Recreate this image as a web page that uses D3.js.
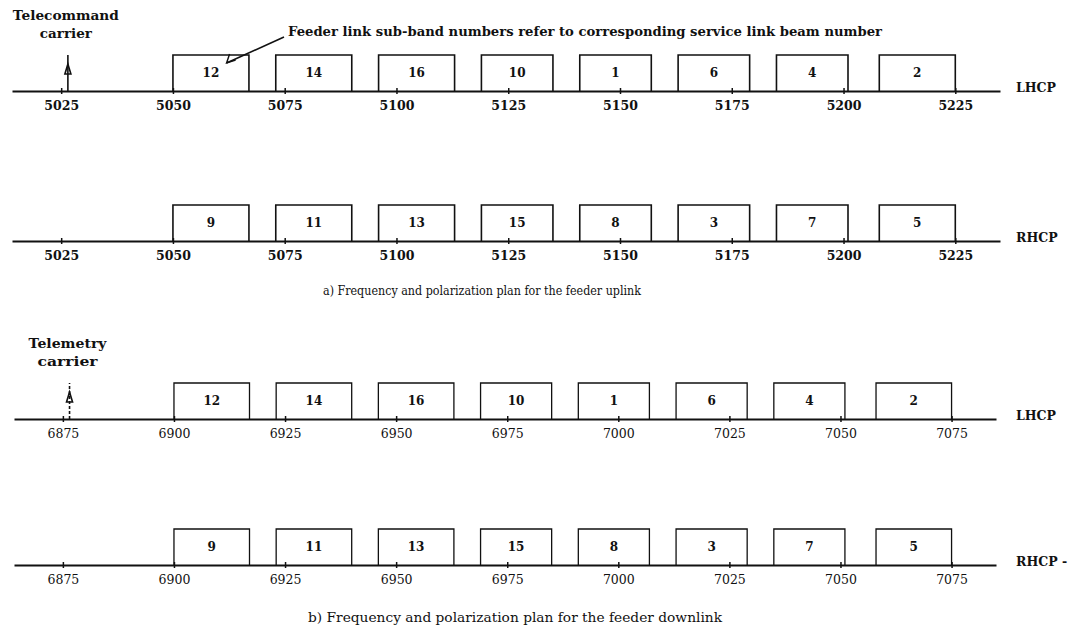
<!DOCTYPE html>
<html>
<head>
<meta charset="utf-8">
<script src="https://cdnjs.cloudflare.com/ajax/libs/d3/7.8.5/d3.min.js"></script>
<style>
	body { margin: 0; background: white; }
	text { font-family: "DejaVu Serif", "Liberation Serif", serif; fill: #111; }
</style>
</head>
<body>
<div id="chart"></div>
<script>
var svgWidth = 1085;
var svgHeight = 640;

// frequencies in MHz
var uplinkTicks = [5025, 5050, 5075, 5100, 5125, 5150, 5175, 5200, 5225];
var downlinkTicks = [6875, 6900, 6925, 6950, 6975, 7000, 7025, 7050, 7075];
var uplinkDomain = [5014, 5235];
var downlinkDomain = [6864, 7085];

var uplinkStart = [5050, 5073, 5096, 5119, 5141, 5163, 5185, 5208];
var uplinkEnd = [5067, 5090, 5113, 5135, 5157, 5179, 5201, 5225];
var downlinkStart = [6900, 6923, 6946, 6969, 6991, 7013, 7035, 7058];
var downlinkEnd = [6917, 6940, 6963, 6985, 7007, 7029, 7051, 7075];

var lhcpBeams = [12, 14, 16, 10, 1, 6, 4, 2];
var rhcpBeams = [9, 11, 13, 15, 8, 3, 7, 5];

var uplinkCarrier = 5026.5;
var downlinkCarrier = 6876.5;

var boxHeight = 36;

var svg = d3.select('div#chart')
	.append('svg')
	.attr('width', svgWidth)
	.attr('height', svgHeight)
	.style('background-color', 'white')

var xUp = d3.scaleLinear().domain(uplinkDomain).range([12, 1000]);
var xDown = d3.scaleLinear().domain(downlinkDomain).range([14, 996]);

var drawRow = function(axisY, x, ticks, beams, starts, ends, polLabel, dashed) {
	var g = svg.append('g').attr('class', 'row')

	var boxes = beams.map(function(b, i) {
		return {beam: b, x0: x(starts[i]), x1: x(ends[i])}
	})

	g.selectAll('path.box')
		.data(boxes)
		.enter()
		.append('path')
		.attr('class', 'box')
		.attr('d', function(d) {
			return 'M' + d.x0 + ',' + axisY + 'V' + (axisY - boxHeight) + 'H' + d.x1 + 'V' + axisY
		})
		.attr('fill', 'none')
		.attr('stroke', '#111')
		.attr('stroke-width', dashed ? 1.3 : 1.6)

	g.selectAll('text.beam')
		.data(boxes)
		.enter()
		.append('text')
		.attr('class', 'beam')
		.attr('x', function(d) {return (d.x0 + d.x1) / 2})
		.attr('y', axisY - boxHeight / 2)
		.attr('dominant-baseline', 'central')
		.attr('text-anchor', 'middle')
		.style('font-size', '12px')
		.style('font-weight', 'bold')
		.text(function(d) {return d.beam})

	var axis = d3.axisBottom(x)
		.tickValues(ticks)
		.tickSize(3)
		.tickSizeOuter(0)
		.tickPadding(7)
		.tickFormat(d3.format('d'))

	var ag = g.append('g')
		.attr('transform', 'translate(0,' + axisY + ')')
		.call(axis)
	ag.select('.domain').attr('stroke', '#111').attr('stroke-width', 2)
	ag.selectAll('.tick line').attr('y1', -3).attr('y2', 3).attr('stroke', '#111').attr('stroke-width', 1.5)
	ag.selectAll('.tick text')
		.style('font-family', '"DejaVu Serif", serif')
		.style('font-size', '12.5px')
		.style('font-weight', dashed ? 'normal' : 'bold')
		.attr('fill', '#111')

	g.append('text')
		.attr('x', 1016)
		.attr('y', axisY - 4)
		.attr('dominant-baseline', 'central')
		.style('font-size', '12.5px')
		.style('font-weight', 'bold')
		.text(polLabel)
}

var drawCarrier = function(axisY, x, f, lines, widths, dashed) {
	var cx = x(f)
	svg.append('line')
		.attr('x1', cx).attr('x2', cx)
		.attr('y1', axisY).attr('y2', axisY - boxHeight)
		.attr('stroke', '#111')
		.attr('stroke-width', 1.6)
		.attr('stroke-dasharray', dashed ? '3,2' : null)
	svg.append('path')
		.attr('d', 'M' + (cx - 3) + ',' + (axisY - 17) + 'L' + cx + ',' + (axisY - 27) + 'L' + (cx + 3) + ',' + (axisY - 17) + 'Z')
		.attr('fill', 'none')
		.attr('stroke', '#111')
		.attr('stroke-width', 1.6)
	svg.selectAll(null)
		.data(lines)
		.enter()
		.append('text')
		.attr('x', cx - 2)
		.attr('y', function(d, i) {return axisY - 76 + i * 18})
		.attr('dominant-baseline', 'central')
		.attr('text-anchor', 'middle')
		.attr('textLength', function(d, i) {return widths[i]})
		.attr('lengthAdjust', 'spacingAndGlyphs')
		.style('font-size', '13px')
		.style('font-weight', 'bold')
		.text(function(d) {return d})
}

// a) feeder uplink
drawRow(91, xUp, uplinkTicks, lhcpBeams, uplinkStart, uplinkEnd, 'LHCP', false)
drawRow(241, xUp, uplinkTicks, rhcpBeams, uplinkStart, uplinkEnd, 'RHCP', false)
drawCarrier(91, xUp, uplinkCarrier, ['Telecommand', 'carrier'], [106, 52], false)

// b) feeder downlink
drawRow(419, xDown, downlinkTicks, lhcpBeams, downlinkStart, downlinkEnd, 'LHCP', true)
drawRow(565, xDown, downlinkTicks, rhcpBeams, downlinkStart, downlinkEnd, 'RHCP -', true)
drawCarrier(419, xDown, downlinkCarrier, ['Telemetry', 'carrier'], [78, 60], true)

// note pointing into sub-band 12
var noteEnd = [xUp(5062), 91 - boxHeight + 8]
svg.append('line')
	.attr('x1', 284).attr('y1', 37)
	.attr('x2', noteEnd[0]).attr('y2', noteEnd[1])
	.attr('stroke', '#111')
	.attr('stroke-width', 1.6)
svg.append('path')
	.attr('d', 'M' + (noteEnd[0] + 3) + ',' + (noteEnd[1] - 9) + 'L' + noteEnd[0] + ',' + noteEnd[1] + 'L' + (noteEnd[0] + 9) + ',' + (noteEnd[1] - 3))
	.attr('fill', 'none')
	.attr('stroke', '#111')
	.attr('stroke-width', 1.4)
svg.append('text')
	.attr('x', 288)
	.attr('y', 31)
	.attr('dominant-baseline', 'central')
	.attr('textLength', 594)
	.attr('lengthAdjust', 'spacingAndGlyphs')
	.style('font-size', '13px')
	.style('font-weight', 'bold')
	.text('Feeder link sub-band numbers refer to corresponding service link beam number')

svg.append('text')
	.attr('x', 323)
	.attr('y', 291)
	.attr('dominant-baseline', 'central')
	.attr('textLength', 318)
	.attr('lengthAdjust', 'spacingAndGlyphs')
	.style('font-size', '12px')
	.text('a) Frequency and polarization plan for the feeder uplink')

svg.append('text')
	.attr('x', 308)
	.attr('y', 617)
	.attr('dominant-baseline', 'central')
	.attr('textLength', 414)
	.attr('lengthAdjust', 'spacingAndGlyphs')
	.style('font-size', '12.5px')
	.text('b) Frequency and polarization plan for the feeder downlink')
</script>
</body>
</html>
